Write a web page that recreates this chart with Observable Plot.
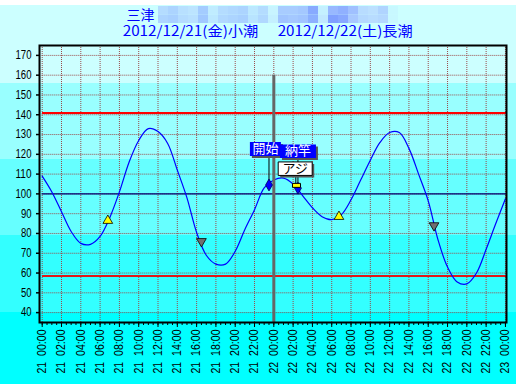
<!DOCTYPE html>
<html><head><meta charset="utf-8">
<script src="https://cdn.jsdelivr.net/npm/d3@7"></script>
<script src="https://cdn.jsdelivr.net/npm/@observablehq/plot@0.6"></script>
<style>
html,body{margin:0;padding:0;}
body{width:516px;height:384px;overflow:hidden;position:relative;
background:linear-gradient(to bottom,#fff 0px,#fff 5px,#ccffff 5px,#ccffff 83px,#99ffff 83px,#99ffff 159px,#66ffff 159px,#66ffff 235px,#33ffff 235px,#33ffff 312px,#00ffff 312px);}
#title{position:absolute;left:0;top:0;}
#chart{position:absolute;left:0;top:40px;}
</style></head><body>
<svg id="title" width="516" height="40"></svg>
<div id="chart"></div>
<script>
// ---- data ----
const stationName = "三津";
const dateLabel1 = "2012/12/21(金)小潮";
const dateLabel2 = "2012/12/22(土)長潮";
const mosaicRow1 = ["#b4dcff","#acd4ff","#b8e0ff","#bce4ff","#a4ccff","#c0ecff","#b4dcff","#b0d8ff","#acd4ff","#bce8ff","#b4dcff","#c8f4ff","#a8ccff","#a8ccff","#a4c8ff","#88aaff","#c4f0ff","#98b8ff","#90b0ff","#a0c0ff","#b8dcff","#bce0ff","#b0d4ff","#c8f8ff"];
const mosaicRow2 = ["#acd4ff","#a8d0ff","#b4dcff","#b8e0ff","#a0c8ff","#bce8ff","#b0d8ff","#acd4ff","#a8d0ff","#b8e4ff","#b0d8ff","#c4f0ff","#a0c4ff","#a4c8ff","#a0c4ff","#8cb0ff","#c0e8ff","#80a0ff","#88a8ff","#a8c8ff","#b4d8ff","#b8dcff","#b4d8ff","#c8f8ff"];

const hours  = [0,1,2,3,4,5,6,7,8,9,10,11,12,13,14,15,16,17,18,19,20,21,22,23,24,25,26,27,28,29,30,31,32,33,34,35,36,37,38,39,40,41,42,43,44,45,46,47,48];
const levels = [109,101,91,81,75,74.5,78.5,88,101,116,127,133,131.5,125.5,112,98,80.5,69,64.5,64.5,71,82,92,103,107,108,105,99,93,88.5,87,89.5,97,107,117,126,131,131,123,110,96.5,77,63,55.5,54.5,60,72,85,97.5];

const yTicks = [40,50,60,70,80,90,100,110,120,130,140,150,160,170];
const xTickHours = [0,2,4,6,8,10,12,14,16,18,20,22,24,26,28,30,32,34,36,38,40,42,44,46,48];
const xTickLabels = ["21 00:00","21 02:00","21 04:00","21 06:00","21 08:00","21 10:00","21 12:00","21 14:00","21 16:00","21 18:00","21 20:00","21 22:00","22 00:00","22 02:00","22 04:00","22 06:00","22 08:00","22 10:00","22 12:00","22 14:00","22 16:00","22 18:00","22 20:00","22 22:00","23 00:00"];

const redLevels = [141, 58.7];
const meanLevel = [100];
const dayMarkHour = [24];
const dayMarkTop = 160;

const sunriseHours = [6.8, 30.75];
const sunriseLevels = [86.5, 88.5];
const sunsetHours = [16.5, 40.6];
const sunsetLevels = [76, 84];

const eventLabels = ["開始", "納竿", "アジ"];
const eventHours  = [23.5, 26.5, 26.35];
const eventLevels = [104.5, 102.9, 104.3];

// ---- title ----
const tsvg = d3.select("#title");
mosaicRow1.forEach((c,i)=>tsvg.append("rect").attr("x",158+i*10).attr("y",6).attr("width",10).attr("height",8.5).attr("fill",c));
mosaicRow2.forEach((c,i)=>tsvg.append("rect").attr("x",158+i*10).attr("y",14.5).attr("width",10).attr("height",8.5).attr("fill",c));
const tfont = "'Noto Sans CJK JP', sans-serif";
tsvg.append("text").attr("x",126.5).attr("y",20).attr("fill","#0000ff").style("font-family",tfont).style("font-size","14px").text(stationName);
tsvg.append("text").attr("x",122.7).attr("y",35.5).attr("fill","#0000ff").style("font-family",tfont).style("font-size","14px")
  .attr("textLength",135.6).attr("lengthAdjust","spacingAndGlyphs").text(dateLabel1);
tsvg.append("text").attr("x",277.7).attr("y",35.5).attr("fill","#0000ff").style("font-family",tfont).style("font-size","14px")
  .attr("textLength",135).attr("lengthAdjust","spacingAndGlyphs").text(dateLabel2);

// ---- chart ----
const tide = hours.map((h,i)=>({h, v: levels[i]}));
const events = eventLabels.map((label,i)=>({label, h: eventHours[i], v: eventLevels[i]}));
const sunrise = sunriseHours.map((h,i)=>({h, v: sunriseLevels[i]}));
const sunset = sunsetHours.map((h,i)=>({h, v: sunsetLevels[i]}));
const minorTicks = d3.range(0, 48.01, 0.5);

const rectSym = (w,h) => ({draw(ctx){ ctx.rect(-w/2,-h/2,w,h); }});
const vline = (L) => ({draw(ctx){ ctx.moveTo(0,0); ctx.lineTo(0,-L); }});

const axisFont = "'Liberation Sans',Arial,sans-serif";
const cjk = "'Noto Sans CJK JP', sans-serif";
const X0 = -0.28, X1 = 48.11, Y0 = 35, Y1 = 175;
const gridColor = "#9a4a4a";

const evStyle = [
  {leader:29, ldx:0, bdx:-3.6, bdy:-36, bw:31, bh:14, fill:"#0000ff", stroke:"none", text:"white", marker:"diamond"},
  {leader:30, ldx:0, bdx:0, bdy:-37, bw:36, bh:13.5, fill:"#0000ff", stroke:"none", text:"white", marker:"diamond"},
  {leader:10, ldx:-0.7, bdx:-1.3, bdy:-16.7, bw:34, bh:13.5, fill:"white", stroke:"black", text:"black", marker:"rect"}
];

const marks = [
  Plot.ruleX(xTickHours, {y1:Y0, y2:Y1, stroke:gridColor, strokeWidth:1, strokeDasharray:"1,1", ariaLabel:"vgrid"}),
  Plot.ruleY(yTicks, {x1:0, x2:X1, stroke:gridColor, strokeWidth:1, strokeDasharray:"1,1", ariaLabel:"hgrid"}),
  Plot.ruleY(redLevels.slice(0,1), {x1:0, x2:X1, stroke:"#ff0000", strokeWidth:2, shapeRendering:"crispEdges"}),
  Plot.ruleY(redLevels.slice(1), {x1:0, x2:X1, stroke:"#e01818", strokeWidth:2, shapeRendering:"crispEdges"}),
  Plot.ruleY(meanLevel, {x1:0, x2:X1, stroke:"#000070", strokeWidth:1.2}),
  Plot.line(tide, {x:"h", y:"v", stroke:"#0000ff", strokeWidth:1.2, curve:"catmull-rom"}),
  Plot.ruleX(dayMarkHour, {y1:dayMarkTop, y2:Y0, stroke:"#666666", strokeWidth:3}),
  Plot.dot(sunrise, {x:"h", y:"v", symbol:"triangle", r:3.6, fill:"#ffff00", stroke:"#000", strokeWidth:0.8}),
  Plot.dot(sunset, {x:"h", y:"v", symbol:"triangle", rotate:180, r:3.6, fill:"#707070", stroke:"#000", strokeWidth:0.8}),
];
events.forEach((e,i)=>{
  const s = evStyle[i];
  marks.push(Plot.dot([e], {x:"h", y:"v", symbol:vline(s.leader), dx:s.ldx, stroke:"black", strokeWidth:1, fill:"none"}));
});
events.forEach((e,i)=>{
  const s = evStyle[i];
  if (s.marker === "diamond") marks.push(Plot.dot([e], {x:"h", y:"v", symbol:"diamond", r:3.6, fill:"#0000ff", stroke:"#000060", strokeWidth:0.8}));
  else marks.push(Plot.dot([e], {x:"h", y:"v", symbol:rectSym(8,4), fill:"#ffff00", stroke:"black", strokeWidth:1}));
});
events.forEach((e,i)=>{
  const s = evStyle[i];
  marks.push(Plot.dot([e], {x:"h", y:"v", symbol:rectSym(s.bw,s.bh), dx:s.bdx+2, dy:s.bdy+2, fill:"#555555", stroke:"none"}));
  marks.push(Plot.dot([e], {x:"h", y:"v", symbol:rectSym(s.bw,s.bh), dx:s.bdx, dy:s.bdy, fill:s.fill, stroke:s.stroke, strokeWidth:1}));
  marks.push(Plot.text([e], {x:"h", y:"v", text:"label", dx:s.bdx, dy:s.bdy, fill:s.text, fontFamily:cjk, fontSize:13}));
});
marks.push(
  Plot.frame({stroke:"black", strokeWidth:2}),
  Plot.axisY(yTicks, {tickSize:3, tickPadding:5, strokeWidth:1.5, label:null, fontFamily:axisFont, fontSize:12}),
  Plot.axisX(minorTicks, {tickSize:3, tickFormat:()=>"", label:null}),
  Plot.axisX(xTickHours, {tickSize:5, tickPadding:2, tickRotate:-90, label:null, fontFamily:axisFont, fontSize:12,
    tickFormat: h => xTickLabels[xTickHours.indexOf(h)].replace(" ", "\u00a0\u00a0")})
);

const chart = Plot.plot({
  width:516, height:344,
  marginTop:5, marginBottom:62, marginLeft:39, marginRight:10,
  style:{background:"transparent", color:"black", fontFamily:axisFont, fontSize:"12px", overflow:"visible"},
  x:{domain:[X0, X1]},
  y:{domain:[Y0, Y1]},
  marks
});
document.getElementById("chart").appendChild(chart);

// snap dotted grid lines to whole pixels so the 1px dots stay crisp
const svgSel = d3.select(chart);
svgSel.selectAll('g[aria-label="vgrid"] line').each(function(){
  const x = Math.round(+this.getAttribute("x1"));
  d3.select(this).attr("x1", x).attr("x2", x);
});
svgSel.selectAll('g[aria-label="hgrid"] line').each(function(){
  const y = Math.round(+this.getAttribute("y1"));
  d3.select(this).attr("y1", y).attr("y2", y);
});

// condense tick label widths to match the narrow bitmap font of the original
svgSel.selectAll("text").each(function(){
  const t = this.textContent;
  if (/^\d\d\u00a0\u00a0\d\d:\d\d$/.test(t)) d3.select(this).attr("textLength", 44).attr("lengthAdjust","spacingAndGlyphs");
  else if (/^\d{3}$/.test(t)) d3.select(this).attr("textLength", 16).attr("lengthAdjust","spacingAndGlyphs");
  else if (/^\d{2}$/.test(t)) d3.select(this).attr("textLength", 10.6).attr("lengthAdjust","spacingAndGlyphs");
});
</script>
</body></html>
